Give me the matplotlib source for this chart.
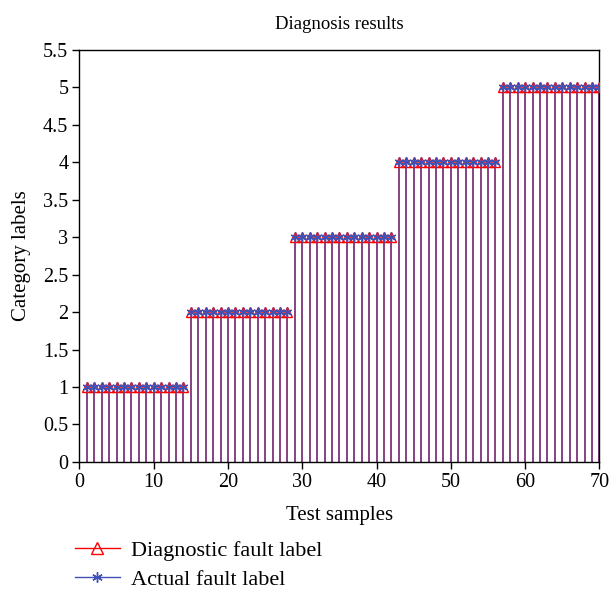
import numpy as np
import matplotlib
matplotlib.use("Agg")
import matplotlib.pyplot as plt
from matplotlib.lines import Line2D

plt.rcParams['font.family'] = ['Liberation Serif', 'DejaVu Serif']

samples = list(range(1, 71))
actual = [1]*14 + [2]*14 + [3]*14 + [4]*14 + [5]*14
diagnostic = [1]*14 + [2]*14 + [3]*14 + [4]*14 + [5]*14
xticks = [0, 10, 20, 30, 40, 50, 60, 70]
yticks = [0, 0.5, 1, 1.5, 2, 2.5, 3, 3.5, 4, 4.5, 5, 5.5]
ytick_labels = ['0', '0.5', '1', '1.5', '2', '2.5', '3', '3.5', '4', '4.5', '5', '5.5']

fig = plt.figure(figsize=(6.11, 5.93), dpi=100)
ax = fig.add_axes([0.130, 0.221, 0.851, 0.695])

red = '#ff0000'
blue = '#3f51b5'

ax.vlines(samples, 0, diagnostic, color=red, lw=1.1, zorder=2)
ax.plot(samples, diagnostic, linestyle='none', marker='^', mfc='none', mec=red,
        ms=7.5, mew=1.0, zorder=3)
ax.vlines(samples, 0, actual, color=blue, lw=1.1, alpha=0.8, zorder=2)
ax.plot(samples, actual, linestyle='none', marker=(6, 2, 0), color=blue,
        ms=7, mew=1.0, zorder=4)

ax.set_xlim(0, 70)
ax.set_ylim(0, 5.5)
ax.set_xticks(xticks)
ax.set_yticks(yticks)
ax.set_yticklabels(ytick_labels)
ax.tick_params(labelsize=14.5, direction='out', length=5, width=1, pad=3)
for s in ax.spines.values():
    s.set_linewidth(1.0)
ax.set_title('Diagnosis results', fontsize=13.5, pad=15)
ax.set_xlabel('Test samples', fontsize=15, labelpad=10)
ax.set_ylabel('Category labels', fontsize=15, labelpad=9)

handles = [
    Line2D([], [], color=red, lw=1.0, marker='^', mfc='none', mec=red, ms=8,
           markevery=[1]),
    Line2D([], [], color=blue, lw=1.0, marker=(6, 2, 0), ms=7.5, markevery=[1]),
]
fig.legend(handles, ['Diagnostic fault label', 'Actual fault label'],
           loc='upper left', bbox_to_anchor=(0.123, 0.089), frameon=False,
           fontsize=16, handlelength=2.0, labelspacing=0.38, handletextpad=0.5,
           borderaxespad=0, borderpad=0)

fig.savefig('out.png', dpi=100)
